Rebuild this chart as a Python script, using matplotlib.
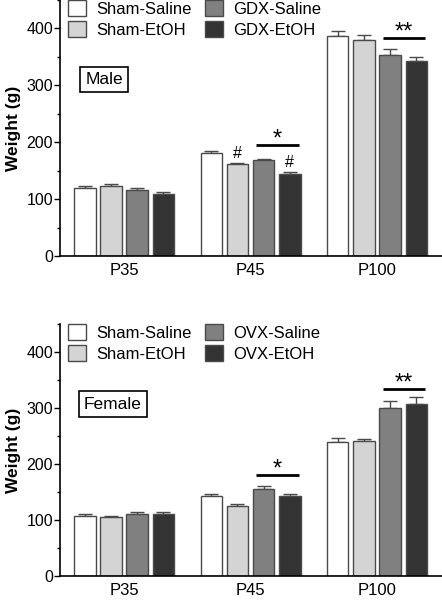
import numpy as np
import matplotlib
matplotlib.use('Agg')
import matplotlib.pyplot as plt
from matplotlib.ticker import MultipleLocator

plt.rcParams['font.family'] = ['Liberation Sans', 'DejaVu Sans']

# ---------- DATOS ----------
edades = ['P35', 'P45', 'P100']
colores = ['#ffffff', '#d4d4d4', '#808080', '#333333']

grupos_macho = ['Sham-Saline', 'Sham-EtOH', 'GDX-Saline', 'GDX-EtOH']
macho_media = [[120, 181, 386],   # Sham-Saline
               [124, 162, 379],   # Sham-EtOH
               [117, 169, 353],   # GDX-Saline
               [110, 144, 343]]   # GDX-EtOH
macho_err = [[3, 4, 9],
             [3, 2, 10],
             [2, 2, 11],
             [3, 4, 7]]

grupos_hembra = ['Sham-Saline', 'Sham-EtOH', 'OVX-Saline', 'OVX-EtOH']
hembra_media = [[108, 143, 239],
                [105, 125, 241],
                [110, 155, 300],
                [110, 142, 308]]
hembra_err = [[3, 4, 8],
              [2, 4, 4],
              [4, 6, 13],
              [4, 4, 11]]

paso = 0.207
ancho = 0.17
desp = (np.arange(4) - 1.5) * paso


def panel(ax, grupos, medias, errores, etiqueta, etiqueta_xy, sig, hashes):
    x = np.arange(len(edades))
    handles = []
    for i in range(4):
        b = ax.bar(x + desp[i], medias[i], ancho, color=colores[i],
                   edgecolor='#4a4a4a', linewidth=1, label=grupos[i], zorder=2)
        ax.errorbar(x + desp[i], medias[i],
                    yerr=[np.zeros(3), errores[i]], fmt='none',
                    ecolor='#4a4a4a', elinewidth=1, capsize=5, capthick=1, zorder=1)
        handles.append(b)
    ax.set_xlim(-0.506, 2.514)
    ax.set_ylim(0, 450)
    ax.set_yticks([0, 100, 200, 300, 400])
    ax.yaxis.set_minor_locator(MultipleLocator(50))
    ax.set_xticks(x)
    ax.set_xticklabels(edades, fontsize=12)
    ax.tick_params(axis='x', length=0, pad=5)
    ax.tick_params(axis='y', which='major', length=4, width=1, labelsize=11.5, pad=1)
    ax.tick_params(axis='y', which='minor', length=2.5, width=1)
    for s in ['top', 'right']:
        ax.spines[s].set_visible(False)
    ax.spines['left'].set_linewidth(1.2)
    ax.spines['bottom'].set_linewidth(1.2)
    ax.set_ylabel('Weight (g)', fontsize=12.5, fontweight='bold', labelpad=4)
    ax.legend(handles=handles, ncol=2, loc='upper left', bbox_to_anchor=(-0.01, 1.045),
              frameon=False, fontsize=12, handlelength=1.1, handleheight=1.1,
              handletextpad=0.6, columnspacing=0.8, labelspacing=0.25, borderpad=0.2)
    ax.text(etiqueta_xy[0], etiqueta_xy[1], etiqueta, fontsize=12.5, ha='center', va='center',
            bbox=dict(boxstyle='square,pad=0.3', facecolor='white', edgecolor='black', linewidth=1.2))
    # significancia
    for grupo, y_linea, texto in sig:
        x0 = grupo + desp[2] - 0.06
        x1 = grupo + desp[3] + 0.07
        ax.plot([x0, x1], [y_linea, y_linea], color='black', lw=2, solid_capstyle='butt')
        ax.text((x0 + x1) / 2, y_linea - 10, texto, ha='center', va='bottom',
                fontsize=17)
    for grupo, barra, y in hashes:
        ax.text(grupo + desp[barra], y, '#', ha='center', va='bottom', fontsize=11.5)


fig = plt.figure(figsize=(4.42, 6), dpi=100)
ax1 = fig.add_axes([0.136, 0.573, 0.864, 0.427])
ax2 = fig.add_axes([0.136, 0.04, 0.864, 0.42])

panel(ax1, grupos_macho, macho_media, macho_err, 'Male', (-0.158, 310),
      [(1, 196, '*'), (2, 383, '**')], [(1, 1, 168), (1, 3, 152)])
panel(ax2, grupos_hembra, hembra_media, hembra_err, 'Female', (-0.09, 307),
      [(1, 181, '*'), (2, 334, '**')], [])

fig.savefig('out.png', dpi=100)
